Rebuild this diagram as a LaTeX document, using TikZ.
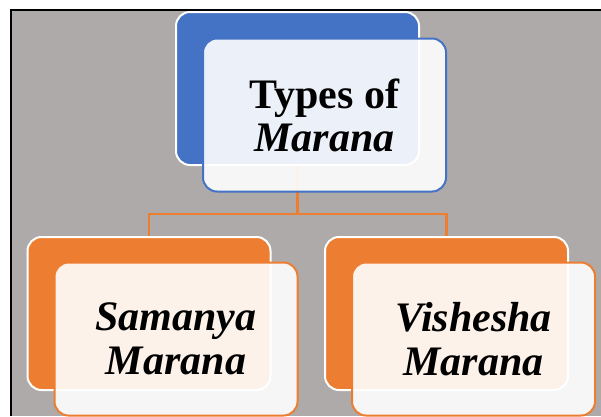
\documentclass[tikz,border=0pt]{standalone}
\usepackage{fontspec}
\setmainfont{Liberation Serif}
\usetikzlibrary{positioning}
\definecolor{bgGray}{HTML}{AEAAAA}
\definecolor{accBlue}{HTML}{4472C4}
\definecolor{accOrange}{HTML}{ED7D31}
\tikzset{
  backbox/.style={rectangle, rounded corners=14pt, minimum width=243pt, minimum height=153pt, draw=white, line width=2pt},
  frontbox/.style={rectangle, rounded corners=14pt, minimum width=243pt, minimum height=153pt, fill=white, fill opacity=0.9, text opacity=1, line width=2pt, align=center, font=\fontsize{42}{43}\selectfont\bfseries},
  link/.style={draw=accOrange, line width=2.2pt}
}
\begin{document}
\begin{tikzpicture}[x=1pt,y=-1pt]
\useasboundingbox (0,0) rectangle (601,416);
\fill[bgGray] (10,10) rectangle (601,416);
\draw[line width=2pt] (11,416) -- (11,10) -- (601,10);
% back boxes
\node[backbox, fill=accBlue] (tb) at (297.5,88.5) {};
\node[backbox, fill=accOrange] (lb) at (149,313.5) {};
\node[backbox, fill=accOrange] (rb) at (446.5,313.5) {};
% connectors
\draw[link] (tb.south) -- ++(0,48) -| (lb.north);
\draw[link] (tb.south) -- ++(0,48) -| (rb.north);
% front boxes
\node[frontbox, draw=accBlue] (tf) at (324.5,115) {Types of\\\itshape Marana};
\node[frontbox, draw=accOrange, font=\fontsize{42}{44}\selectfont\bfseries\itshape] (lf) at (176,339) {Samanya\\Marana};
\node[frontbox, draw=accOrange, font=\fontsize{42}{44}\selectfont\bfseries\itshape] (rf) at (473.5,339) {Vishesha\\Marana};
\end{tikzpicture}
\end{document}
